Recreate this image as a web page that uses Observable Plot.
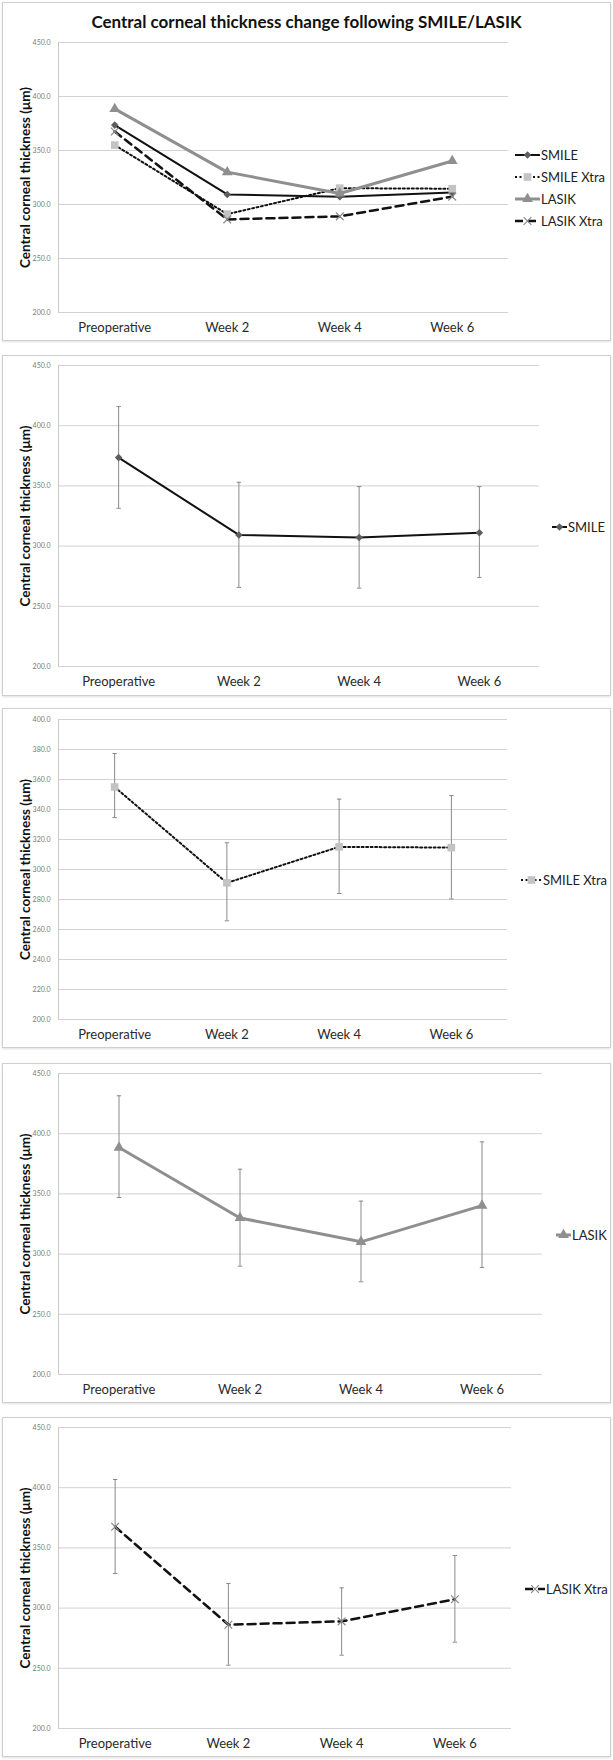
<!DOCTYPE html>
<html>
<head>
<meta charset="utf-8">
<script src="https://cdn.jsdelivr.net/npm/d3@7"></script>
<script src="https://cdn.jsdelivr.net/npm/@observablehq/plot@0.6"></script>
<style>
  html, body { margin: 0; padding: 0; background: #fff; }
  body { font-family: Lato, "Open Sans", sans-serif; }
  #page { position: relative; width: 613px; height: 1760px; overflow: hidden; }
  .box { position: absolute; left: 2px; width: 609px; box-sizing: border-box;
         border: 1px solid #cfcfcf; box-shadow: 0 1px 2px rgba(0,0,0,0.12); background: #fff; }
  .chart { position: absolute; left: 0; }
  .chart svg { display: block; background: transparent; }
  .title { position: absolute; left: 0; width: 613px; text-align: center; font-weight: bold;
           font-size: 17px; line-height: 24px; color: #111; }
  .legend { position: absolute; display: flex; align-items: center; height: 14px;
            font-size: 13px; color: #222; white-space: nowrap; }
  .legend svg { display: block; }
</style>
</head>
<body>
<div id="page"></div>
<script>
// ---------- data ----------
const categories = ["Preoperative", "Week 2", "Week 4", "Week 6"];
const seriesNames = ["SMILE", "SMILE Xtra", "LASIK", "LASIK Xtra"];

const smileMean = [373.5, 309.3, 307.2, 311.1];
const smileUpper = [415.9, 353.0, 349.4, 349.4];
const smileLower = [331.4, 265.7, 265.1, 274.0];

const smileXtraMean = [355.0, 291.1, 315.1, 314.6];
const smileXtraUpper = [377.3, 317.8, 346.9, 349.3];
const smileXtraLower = [334.7, 265.8, 284.0, 280.4];

const lasikMean = [388.5, 330.0, 310.2, 340.3];
const lasikUpper = [431.5, 370.5, 344.0, 393.2];
const lasikLower = [347.0, 290.0, 277.0, 288.9];

const lasikXtraMean = [367.6, 286.2, 289.0, 307.3];
const lasikXtraUpper = [406.8, 320.4, 316.8, 343.7];
const lasikXtraLower = [328.7, 252.6, 260.9, 271.7];

const yTicksWide = [200, 250, 300, 350, 400, 450];
const yTicksNarrow = [200, 220, 240, 260, 280, 300, 320, 340, 360, 380, 400];

const titleText = "Central corneal thickness change following SMILE/LASIK";
const yLabel = "Central corneal thickness (\u03bcm)";

// ---------- styles ----------
const styles = {
  "SMILE":      {stroke: "#111", width: 2,   dash: null,     symbol: "diamond2", fill: "#5e5e5e", mstroke: "none",    r: 3.4},
  "SMILE Xtra": {stroke: "#111", width: 2,   dash: "2,2.5",  symbol: "square",   fill: "#c3c3c3", mstroke: "none",    r: 4.3},
  "LASIK":      {stroke: "#8f8f8f", width: 3, dash: null,    symbol: "triangle", fill: "#8f8f8f", mstroke: "none",    r: 4.0},
  "LASIK Xtra": {stroke: "#111", width: 2.5, dash: "8,5",    symbol: "times",    fill: "none",    mstroke: "#8a8a8a", r: 3.6}
};

const cap = {draw(ctx, size) { const h = Math.sqrt(size / Math.PI); ctx.moveTo(-h, 0); ctx.lineTo(h, 0); }};

function table(mean, lower, upper) {
  return categories.map((c, i) => ({i, cat: c, v: mean[i], lo: lower ? lower[i] : null, hi: upper ? upper[i] : null}));
}

const data = {
  "SMILE": table(smileMean, smileLower, smileUpper),
  "SMILE Xtra": table(smileXtraMean, smileXtraLower, smileXtraUpper),
  "LASIK": table(lasikMean, lasikLower, lasikUpper),
  "LASIK Xtra": table(lasikXtraMean, lasikXtraLower, lasikXtraUpper)
};

function seriesMarks(name, withErrors) {
  const s = styles[name], d = data[name];
  const m = [];
  if (withErrors) {
    m.push(Plot.ruleX(d, {x: "i", y1: "lo", y2: "hi", stroke: "#8a8a8a", strokeWidth: 1}));
    m.push(Plot.dot(d, {x: "i", y: "lo", symbol: cap, r: 2.2, stroke: "#8a8a8a", strokeWidth: 1, fill: "none"}));
    m.push(Plot.dot(d, {x: "i", y: "hi", symbol: cap, r: 2.2, stroke: "#8a8a8a", strokeWidth: 1, fill: "none"}));
  }
  m.push(Plot.line(d, {x: "i", y: "v", stroke: s.stroke, strokeWidth: s.width, strokeDasharray: s.dash || undefined}));
  m.push(Plot.dot(d, {x: "i", y: "v", symbol: s.symbol, r: s.r, fill: s.fill, stroke: s.mstroke, strokeWidth: 1.2}));
  return m;
}

function panel(cfg) {
  const marks = [
    Plot.ruleY(cfg.ticks, {stroke: "#d2d2d2", strokeWidth: 1}),
    Plot.ruleX([-0.5], {stroke: "#c8c8c8", strokeWidth: 1}),
    Plot.axisY({ticks: cfg.ticks, tickFormat: d3.format(".1f"), tickSize: 0, tickPadding: 8,
                fontSize: 7, color: "#7a7a7a", label: null}),
    Plot.axisX({ticks: [0, 1, 2, 3], tickFormat: i => categories[i], tickSize: 0, tickPadding: 10,
                fontSize: 13, color: "#2a2a2a", label: null}),
    Plot.text([yLabel], {text: d => d, frameAnchor: "left", textAnchor: "middle", lineAnchor: "middle",
                         rotate: -90, dx: -33, fontSize: 13.5, fontWeight: "bold", fill: "#111"})
  ];
  for (const name of cfg.series) marks.push(...seriesMarks(name, cfg.errors));
  return Plot.plot({
    width: 613, height: cfg.height,
    marginTop: cfg.mt, marginBottom: cfg.mb, marginLeft: 58, marginRight: cfg.mr,
    style: {fontFamily: "Lato, 'Open Sans', sans-serif", background: "transparent", overflow: "visible"},
    x: {domain: [-0.5, 3.5], axis: null},
    y: {domain: cfg.yDomain, axis: null},
    marks
  });
}

const page = document.getElementById("page");

function addBox(top, height) {
  const b = document.createElement("div");
  b.className = "box"; b.style.top = top + "px"; b.style.height = height + "px";
  page.appendChild(b);
}
function addChart(top, svg) {
  const c = document.createElement("div");
  c.className = "chart"; c.style.top = top + "px";
  c.appendChild(svg); page.appendChild(c);
}
function addLegend(name, x, y, w) {
  const s = styles[name];
  const div = document.createElement("div");
  div.className = "legend";
  div.style.left = x + "px"; div.style.top = (y - 7) + "px";
  const sv = d3.create("svg").attr("width", w).attr("height", 14);
  sv.append("line").attr("x1", 0).attr("x2", w).attr("y1", 7).attr("y2", 7)
    .attr("stroke", s.stroke).attr("stroke-width", s.width)
    .attr("stroke-dasharray", s.dash || null);
  const symMap = {diamond2: d3.symbolDiamond2, square: d3.symbolSquare, triangle: d3.symbolTriangle, times: d3.symbolTimes};
  sv.append("path").attr("transform", `translate(${w / 2},7)`)
    .attr("d", d3.symbol(symMap[s.symbol], Math.PI * s.r * s.r)())
    .attr("fill", s.fill).attr("stroke", s.mstroke).attr("stroke-width", 1.2);
  div.appendChild(sv.node());
  const t = document.createElement("span");
  t.textContent = name; t.style.marginLeft = "1px";
  div.appendChild(t);
  page.appendChild(div);
}

// Panel 1 (combined)
addBox(2, 339);
const title = document.createElement("div");
title.className = "title"; title.style.top = "10px"; title.textContent = titleText;
page.appendChild(title);
addChart(34, panel({series: seriesNames, errors: false, ticks: yTicksWide, yDomain: [200, 450],
                    height: 306, mt: 8, mb: 28, mr: 105}));
[155, 177, 199, 221].forEach((y, k) => addLegend(seriesNames[k], 515, y, 25));

// Panel 2 SMILE
addBox(355, 341);
addChart(355, panel({series: ["SMILE"], errors: true, ticks: yTicksWide, yDomain: [200, 450],
                     height: 340, mt: 10, mb: 29, mr: 74}));
addLegend("SMILE", 552, 527, 15);

// Panel 3 SMILE Xtra
addBox(708, 340);
addChart(708, panel({series: ["SMILE Xtra"], errors: true, ticks: yTicksNarrow, yDomain: [200, 400],
                     height: 340, mt: 11, mb: 29, mr: 106}));
addLegend("SMILE Xtra", 521, 880, 21);

// Panel 4 LASIK
addBox(1063, 340);
addChart(1063, panel({series: ["LASIK"], errors: true, ticks: yTicksWide, yDomain: [200, 450],
                      height: 340, mt: 10, mb: 29, mr: 71}));
addLegend("LASIK", 556, 1235, 15);

// Panel 5 LASIK Xtra
addBox(1417, 340);
addChart(1417, panel({series: ["LASIK Xtra"], errors: true, ticks: yTicksWide, yDomain: [200, 450],
                      height: 340, mt: 10, mb: 29, mr: 102}));
addLegend("LASIK Xtra", 525, 1589, 20);
</script>
</body>
</html>
